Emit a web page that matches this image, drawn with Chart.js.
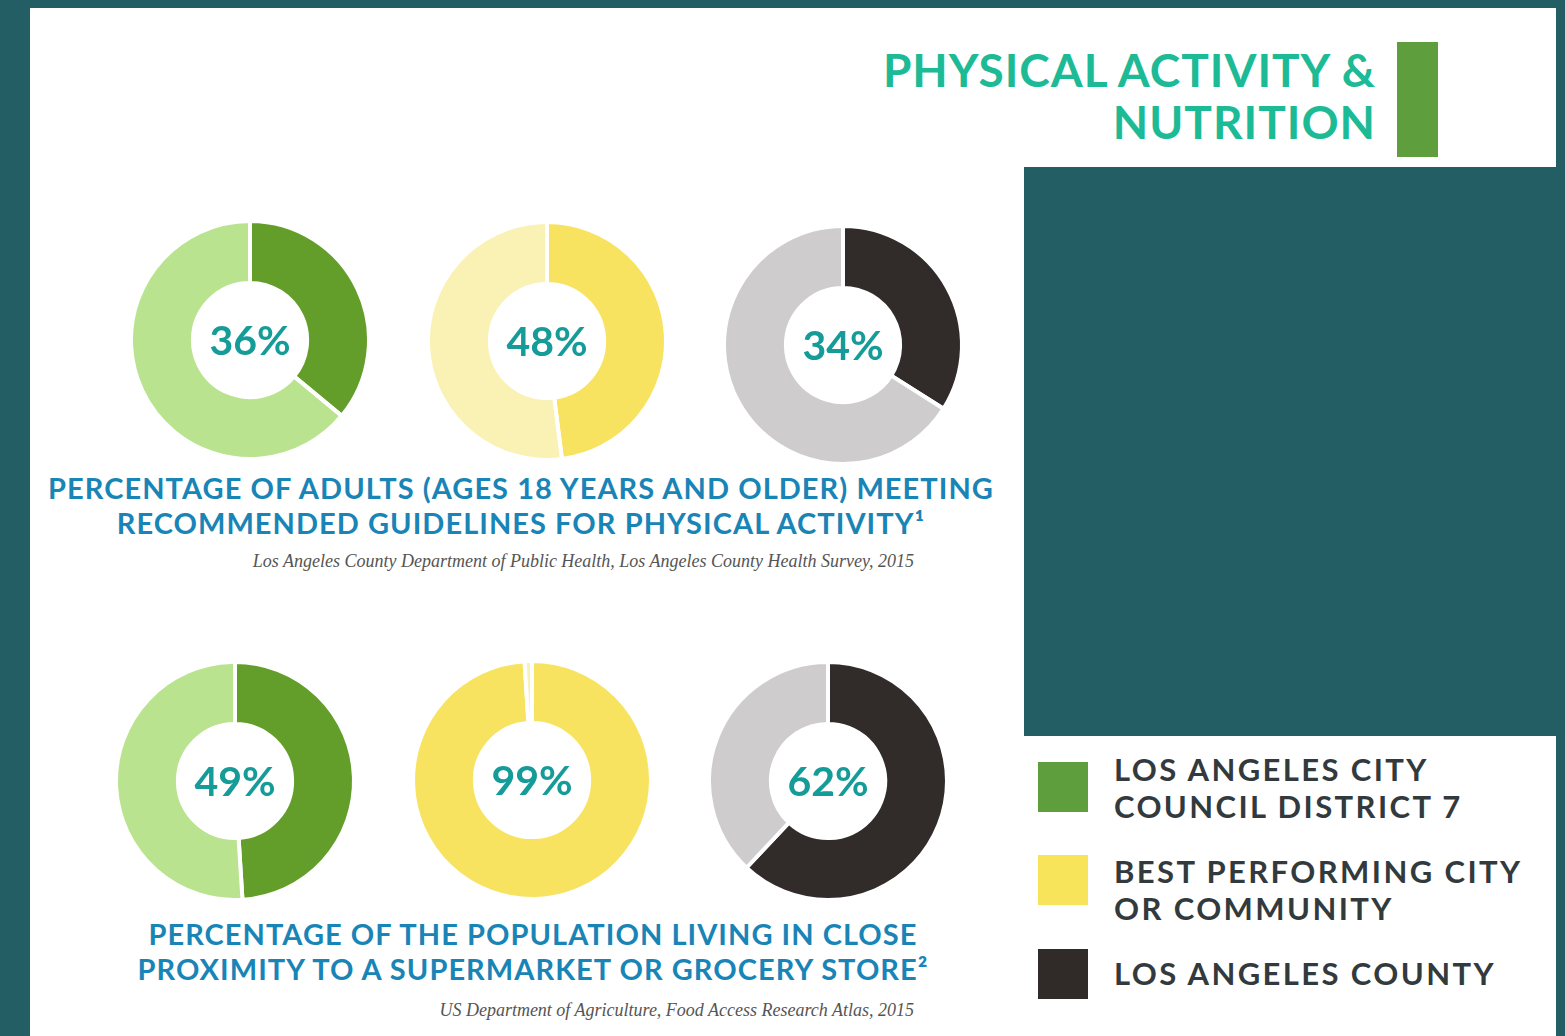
<!DOCTYPE html>
<html>
<head>
<meta charset="utf-8">
<script src="https://cdn.jsdelivr.net/npm/chart.js@4.4.1/dist/chart.umd.min.js"></script>
<style>
  html, body { margin: 0; padding: 0; }
  body { width: 1565px; height: 1036px; background: #235e65; position: relative; overflow: hidden; font-family: Lato, "Open Sans", sans-serif; }
  #page { position: absolute; left: 30px; top: 8px; width: 1526px; height: 1040px; background: #fff; }
  #tealBox { position: absolute; left: 1024px; top: 167px; width: 545px; height: 569px; background: #235e65; }
  #title { position: absolute; right: 189px; top: 44px; text-align: right; color: #1dba96; font-weight: 700; font-size: 46px; line-height: 52px; letter-spacing: 1px; white-space: nowrap; }
  #titleBar { position: absolute; left: 1397px; top: 42px; width: 41px; height: 115px; background: #5f9e3d; }
  .donut { position: absolute; width: 244px; height: 244px; }
  .heading { position: absolute; width: 1000px; text-align: center; color: #1984b6; font-weight: 700; font-size: 29px; line-height: 35px; letter-spacing: 1.05px; white-space: nowrap; }
  .source { position: absolute; text-align: right; color: #555; font-family: "Liberation Serif", serif; font-style: italic; font-size: 18px; white-space: nowrap; }
  .legend { position: absolute; left: 1038px; }
  .legend .sw { position: absolute; left: 0; width: 50px; height: 50px; }
  .legend .lbl { position: absolute; left: 76px; color: #333a3e; font-weight: 700; font-size: 31px; line-height: 37px; letter-spacing: 2.4px; white-space: nowrap; }
</style>
</head>
<body>
<div id="page"></div>
<div id="tealBox"></div>
<div id="title">PHYSICAL ACTIVITY &amp;<br>NUTRITION</div>
<div id="titleBar"></div>

<canvas class="donut" id="pa0"></canvas>
<canvas class="donut" id="pa1"></canvas>
<canvas class="donut" id="pa2"></canvas>
<canvas class="donut" id="gr0"></canvas>
<canvas class="donut" id="gr1"></canvas>
<canvas class="donut" id="gr2"></canvas>

<div class="heading" id="paHeading" style="left:21px; top:470px;"></div>
<div class="source" id="paSource" style="right:651px; top:551px;"></div>
<div class="heading" id="grHeading" style="left:33px; top:916px;"></div>
<div class="source" id="grSource" style="right:651px; top:1000px;"></div>

<div id="legend"></div>

<script>
// regiões comparadas
const regions = ['LOS ANGELES CITY\nCOUNCIL DISTRICT 7', 'BEST PERFORMING CITY\nOR COMMUNITY', 'LOS ANGELES COUNTY'];

// % de adultos que cumprem as recomendações de atividade física
const physicalActivity = [36, 48, 34];
// % da população perto de supermercado
const groceryProximity = [49, 99, 62];

const paTitle = ['PERCENTAGE OF ADULTS (AGES 18 YEARS AND OLDER) MEETING', 'RECOMMENDED GUIDELINES FOR PHYSICAL ACTIVITY\u00B9'];
const grTitle = ['PERCENTAGE OF THE POPULATION LIVING IN CLOSE', 'PROXIMITY TO A SUPERMARKET OR GROCERY STORE\u00B2'];
const paSourceText = 'Los Angeles County Department of Public Health, Los Angeles County Health Survey, 2015';
const grSourceText = 'US Department of Agriculture, Food Access Research Atlas, 2015';

// cores: principal e resto
const mainColors = ['#639d2a', '#f8e360', '#312c2a'];
const restColors = ['#b9e38f', '#faf1b5', '#cecccc'];
const legendColors = ['#5f9e3d', '#f7e45a', '#302a28'];

// posição (centro) de cada rosca
const centers = {
    pa: [[250, 340], [547, 341], [843, 345]],
    gr: [[235, 781], [532, 780], [828, 781]]
};

// texto no centro da rosca
const centerText = {
    id: 'centerText',
    afterDraw(chart) {
        const ctx = chart.ctx;
        const area = chart.chartArea;
        const value = chart.data.datasets[0].data[0];
        ctx.save();
        ctx.fillStyle = '#159b98';
        ctx.font = 'bold 41px Lato, sans-serif';
        ctx.textAlign = 'center';
        ctx.textBaseline = 'middle';
        ctx.fillText(value + '%', (area.left + area.right) / 2, (area.top + area.bottom) / 2 + 2);
        ctx.restore();
    }
};

function makeDonut(id, value, i, center) {
    const el = document.getElementById(id);
    el.style.left = (center[0] - 122) + 'px';
    el.style.top = (center[1] - 122) + 'px';
    new Chart(el.getContext('2d'), {
        type: 'doughnut',
        data: {
            labels: [regions[i], 'other'],
            datasets: [{
                data: [value, 100 - value],
                backgroundColor: [mainColors[i], restColors[i]],
                borderColor: '#ffffff',
                borderWidth: 4,
                hoverOffset: 0
            }]
        },
        options: {
            responsive: false,
            animation: false,
            cutout: '48%',
            layout: { padding: 1 },
            plugins: {
                legend: { display: false },
                tooltip: { enabled: false }
            }
        },
        plugins: [centerText]
    });
}

physicalActivity.forEach((v, i) => makeDonut('pa' + i, v, i, centers.pa[i]));
groceryProximity.forEach((v, i) => makeDonut('gr' + i, v, i, centers.gr[i]));

document.getElementById('paHeading').innerHTML = paTitle.join('<br>');
document.getElementById('grHeading').innerHTML = grTitle.join('<br>');
document.getElementById('paSource').textContent = paSourceText;
document.getElementById('grSource').textContent = grSourceText;

// legenda
const legendTops = [762, 855, 949];
const legendTextTops = [751, 853, 955];
const legend = document.getElementById('legend');
legend.className = 'legend';
regions.forEach((r, i) => {
    const sw = document.createElement('div');
    sw.className = 'sw';
    sw.style.background = legendColors[i];
    sw.style.top = legendTops[i] + 'px';
    const lbl = document.createElement('div');
    lbl.className = 'lbl';
    lbl.innerHTML = r.split('\n').join('<br>');
    lbl.style.top = legendTextTops[i] + 'px';
    legend.appendChild(sw);
    legend.appendChild(lbl);
});
</script>
</body>
</html>
